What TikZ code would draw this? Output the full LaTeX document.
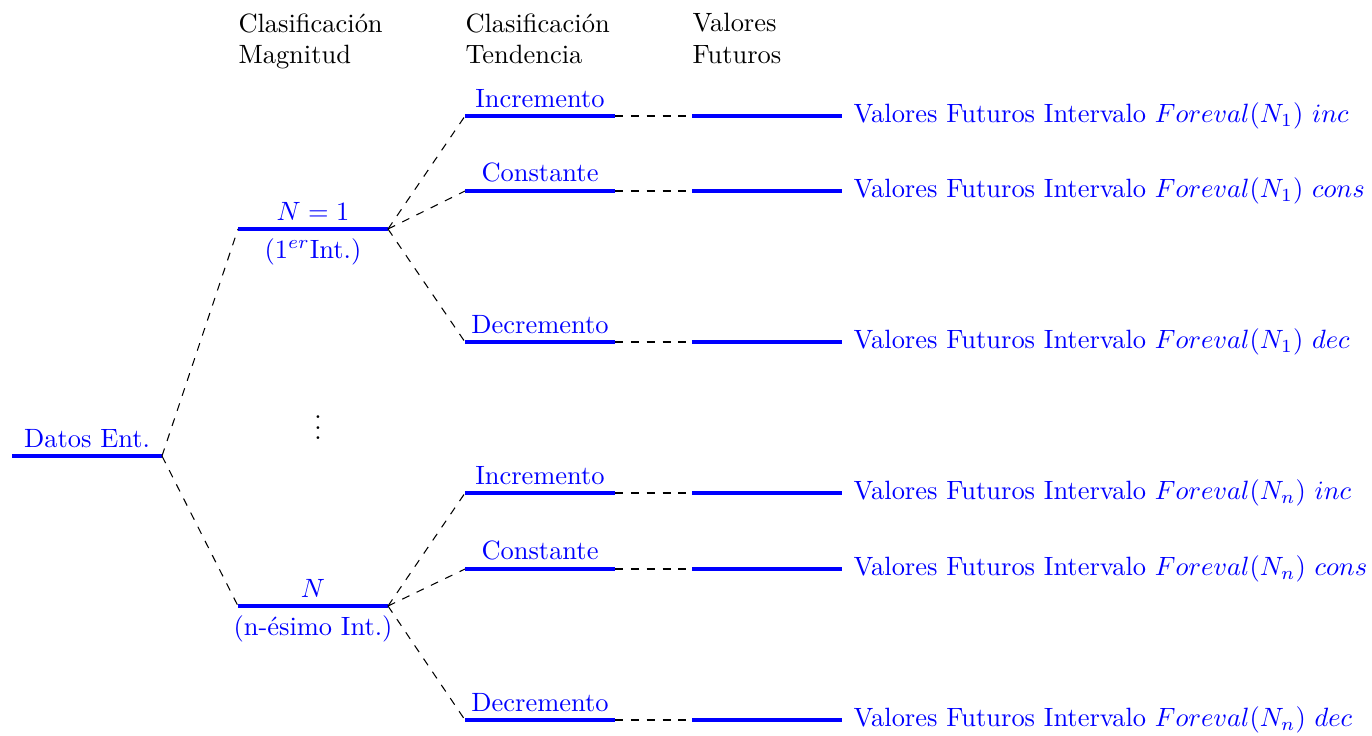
\documentclass[tikz,border=0pt]{standalone}
\usepackage{amsmath}
\begin{document}
\begin{tikzpicture}[x=0.378pt,y=-0.378pt,
  level/.style={draw=blue,line width=1.5pt},
  link/.style={draw=black,dashed,thin},
  lbl/.style={text=blue,inner sep=0pt},
  head/.style={align=left,inner sep=0pt,anchor=north west}]
\useasboundingbox (0,0) rectangle (1372,735);

% headers
\node[head] (h1) at (238,13) {Clasificación\\Magnitud};
\node[head] (h2) at (465,13) {Clasificación\\Tendencia};
\node[head] (h3) at (692,13) {Valores\\Futuros};

% root
\coordinate (r0) at (12,456);
\coordinate (r1) at (162,456);
\draw[level] (r0) -- (r1);
\node[lbl,anchor=south] (rl) at (87,448) {Datos Ent.};

% magnitude levels
\coordinate (a0) at (238,229); \coordinate (a1) at (388,229);
\coordinate (b0) at (238,606); \coordinate (b1) at (388,606);
\draw[level] (a0) -- (a1);
\draw[level] (b0) -- (b1);
\node[lbl,anchor=south] (al) at (313,221) {$N=1$};
\node[lbl,anchor=north] (al2) at (313,238) {($1^{er}$Int.)};
\node[lbl,anchor=south] (bl) at (313,598) {$N$};
\node[lbl,anchor=north] (bl2) at (313,615) {(n-ésimo Int.)};
\draw[link] (r1) -- (a0);
\draw[link] (r1) -- (b0);

\node[inner sep=0pt] (dots) at (318,420) {$\vdots$};

% trend levels and future values
\foreach \id/\y/\src/\name/\sub/\suf in {
    t1/116/a1/Incremento/1/inc,
    t2/191/a1/Constante/1/cons,
    t3/342/a1/Decremento/1/dec,
    t4/493/b1/Incremento/n/inc,
    t5/569/b1/Constante/n/cons,
    t6/720/b1/Decremento/n/dec}{
  \coordinate (\id a) at (465,\y); \coordinate (\id b) at (615,\y);
  \coordinate (\id c) at (692,\y); \coordinate (\id d) at (842,\y);
  \draw[level] (\id a) -- (\id b);
  \draw[level] (\id c) -- (\id d);
  \draw[link] (\src) -- (\id a);
  \draw[link] (\id b) -- (\id c);
  \node[lbl,anchor=south] (\id l) at (540,\y-8) {\name};
  \node[lbl,anchor=west] (\id v) at (853,\y) {Valores Futuros Intervalo $Foreval(N_{\sub})$ $\suf$};
}
\end{tikzpicture}
\end{document}
